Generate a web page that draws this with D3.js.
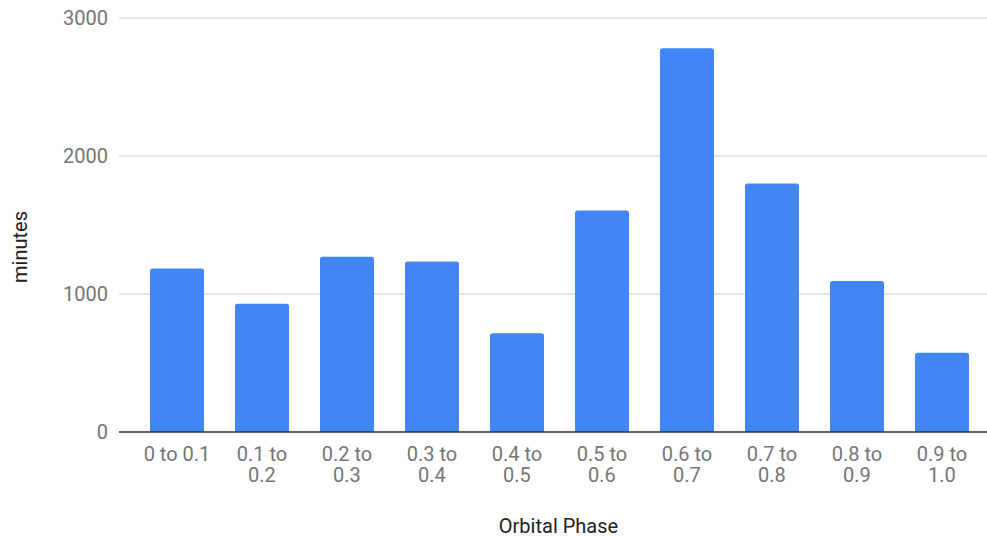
<!DOCTYPE html>
<html><head><meta charset="utf-8">
<script src="https://cdn.jsdelivr.net/npm/d3@7"></script>
<style>body{margin:0;background:#fff}</style>
</head><body>
<svg id="c" width="987" height="537"></svg>
<script>
const categories = ["0 to 0.1","0.1 to 0.2","0.2 to 0.3","0.3 to 0.4","0.4 to 0.5","0.5 to 0.6","0.6 to 0.7","0.7 to 0.8","0.8 to 0.9","0.9 to 1.0"];
const minutes = [1185, 930, 1270, 1235, 715, 1605, 2780, 1800, 1095, 575];
const yTicks = [0, 1000, 2000, 3000];

const svg = d3.select("#c");
const font = "Roboto, sans-serif";
const x = d3.scaleBand().domain(categories).range([134.5, 984.5]).paddingInner(0.365).paddingOuter(0.1825);
const y = d3.scaleLinear().domain([0, 3000]).range([432, 18]);

// gridlines
svg.append("g").selectAll("line").data(yTicks.filter(d => d > 0)).join("line")
  .attr("x1", 119).attr("x2", 987).attr("y1", d => y(d)).attr("y2", d => y(d))
  .attr("stroke", "#cccccc").attr("stroke-width", 1);

// y labels
svg.append("g").selectAll("text").data(yTicks).join("text")
  .attr("x", 108).attr("y", d => y(d)).attr("dy", "0.35em")
  .attr("text-anchor", "end").attr("font-family", font).attr("font-size", 20).attr("fill", "#757575")
  .text(d => d);

// bars with rounded top corners
const r = 2.5;
svg.append("g").selectAll("path").data(categories).join("path")
  .attr("fill", "#4285f4")
  .attr("d", (c, i) => {
    const x0 = x(c), w = x.bandwidth(), yt = y(minutes[i]), yb = y(0);
    return `M${x0},${yb}V${yt + r}Q${x0},${yt} ${x0 + r},${yt}H${x0 + w - r}Q${x0 + w},${yt} ${x0 + w},${yt + r}V${yb}Z`;
  });

// baseline
svg.append("line").attr("x1", 119).attr("x2", 987).attr("y1", y(0)).attr("y2", y(0))
  .attr("stroke", "#333333").attr("stroke-width", 1.5);

// x labels
const xl = svg.append("g").selectAll("text").data(categories).join("text")
  .attr("text-anchor", "middle").attr("font-family", font).attr("font-size", 20).attr("fill", "#757575")
  .attr("x", c => x(c) + x.bandwidth() / 2).attr("y", 460.5);
xl.each(function(c) {
  const t = d3.select(this);
  const parts = c === "0 to 0.1" ? [c] : [c.replace(/ [^ ]+$/, ""), c.split(" ").pop()];
  parts.forEach((p, i) => t.append("tspan").attr("x", x(c) + x.bandwidth() / 2).attr("dy", i === 0 ? 0 : 21.5).text(p));
});

// axis titles
svg.append("text").attr("x", 558.5).attr("y", 533).attr("text-anchor", "middle")
  .attr("font-family", font).attr("font-size", 20).attr("fill", "#222222").text("Orbital Phase");
svg.append("text").attr("transform", "translate(27,247) rotate(-90)").attr("text-anchor", "middle")
  .attr("font-family", font).attr("font-size", 20).attr("fill", "#222222").text("minutes");
</script>
</body></html>
